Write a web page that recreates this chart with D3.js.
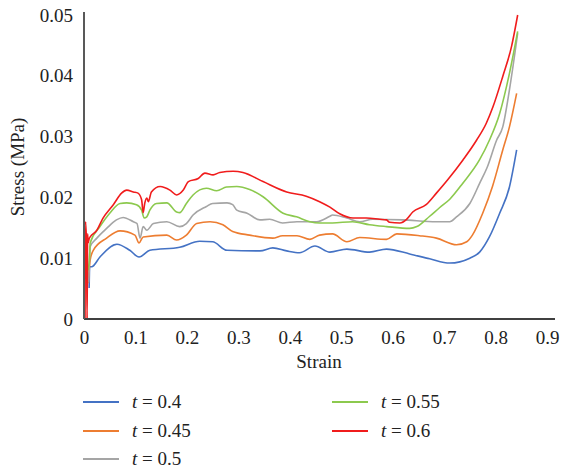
<!DOCTYPE html>
<html>
<head>
<meta charset="utf-8">
<script src="https://cdn.jsdelivr.net/npm/d3@7"></script>
<style>
    body { margin: 0; background: #fff; }
    text { font-family: "Liberation Serif", "DejaVu Serif", serif; fill: #222; }
</style>
</head>
<body>
<svg id="chart" width="565" height="470"></svg>
<script>
let xTicks = [0, 0.1, 0.2, 0.3, 0.4, 0.5, 0.6, 0.7, 0.8, 0.9];
let yTicks = [0, 0.01, 0.02, 0.03, 0.04, 0.05];
let seriesNames = ["0.4", "0.45", "0.5", "0.55", "0.6"];

// [strain, stress (MPa)]
let t040 = [
    [0.010, 0.0051], [0.011, 0.0086], [0.015, 0.0086], [0.031, 0.0102], [0.064, 0.0123],
    [0.089, 0.0113], [0.107, 0.0102], [0.128, 0.0113], [0.186, 0.0118], [0.225, 0.0128],
    [0.250, 0.0127], [0.278, 0.0113], [0.342, 0.0112], [0.367, 0.0117], [0.394, 0.0112],
    [0.419, 0.0109], [0.449, 0.0120], [0.478, 0.0110], [0.511, 0.0115], [0.555, 0.0110],
    [0.588, 0.0115], [0.633, 0.0107], [0.672, 0.0099], [0.711, 0.0092], [0.750, 0.0100],
    [0.769, 0.0110], [0.788, 0.0135], [0.808, 0.0174], [0.827, 0.0217], [0.841, 0.0278],
];
let t045 = [
    [0.008, 0.0059], [0.012, 0.0097], [0.018, 0.0113], [0.044, 0.0133], [0.070, 0.0145],
    [0.099, 0.0138], [0.107, 0.0125], [0.115, 0.0135], [0.161, 0.0138], [0.180, 0.0130],
    [0.199, 0.0138], [0.219, 0.0157], [0.245, 0.0160], [0.270, 0.0155], [0.289, 0.0144],
    [0.322, 0.0138], [0.367, 0.0133], [0.386, 0.0137], [0.414, 0.0137], [0.439, 0.0131],
    [0.458, 0.0138], [0.483, 0.0140], [0.511, 0.0127], [0.536, 0.0134], [0.588, 0.0131],
    [0.608, 0.0140], [0.652, 0.0137], [0.685, 0.0133], [0.724, 0.0122], [0.744, 0.0127],
    [0.755, 0.0138], [0.775, 0.0174], [0.794, 0.0218], [0.814, 0.0278], [0.827, 0.0316],
    [0.841, 0.0371],
];
let t050 = [
    [0.009, 0.0060], [0.011, 0.0105], [0.012, 0.0119], [0.025, 0.0133], [0.044, 0.0149],
    [0.063, 0.0163], [0.076, 0.0167], [0.096, 0.0160], [0.103, 0.0157], [0.109, 0.0133],
    [0.115, 0.0152], [0.122, 0.0146], [0.135, 0.0157], [0.161, 0.0160], [0.186, 0.0152],
    [0.199, 0.0157], [0.212, 0.0171], [0.238, 0.0185], [0.250, 0.0190], [0.278, 0.0191],
    [0.289, 0.0188], [0.297, 0.0179], [0.317, 0.0174], [0.342, 0.0163], [0.361, 0.0164],
    [0.386, 0.0158], [0.414, 0.0160], [0.452, 0.0160], [0.478, 0.0169], [0.483, 0.0171],
    [0.511, 0.0166], [0.536, 0.0160], [0.561, 0.0164], [0.619, 0.0163], [0.685, 0.0160],
    [0.711, 0.0160], [0.724, 0.0168], [0.750, 0.0190], [0.769, 0.0223], [0.784, 0.0250],
    [0.802, 0.0294], [0.814, 0.0316], [0.827, 0.0377], [0.843, 0.0470],
];
let t055 = [
    [0.008, 0.0080], [0.011, 0.0105], [0.012, 0.0125], [0.031, 0.0152], [0.050, 0.0174],
    [0.070, 0.0190], [0.083, 0.0191], [0.102, 0.0188], [0.112, 0.0179], [0.117, 0.0166],
    [0.122, 0.0168], [0.128, 0.0179], [0.141, 0.0190], [0.161, 0.0191], [0.180, 0.0176],
    [0.186, 0.0175], [0.199, 0.0190], [0.212, 0.0204], [0.238, 0.0215], [0.258, 0.0211],
    [0.277, 0.0217], [0.297, 0.0218], [0.322, 0.0213], [0.348, 0.0201], [0.387, 0.0174],
    [0.413, 0.0168], [0.439, 0.0160], [0.458, 0.0158], [0.483, 0.0158], [0.522, 0.0160],
    [0.555, 0.0155], [0.588, 0.0152], [0.633, 0.0149], [0.647, 0.0152], [0.672, 0.0169],
    [0.691, 0.0183], [0.711, 0.0197], [0.736, 0.0223], [0.769, 0.0262], [0.788, 0.0294],
    [0.808, 0.0338], [0.827, 0.0404], [0.843, 0.0473],
];
let t060 = [
    [0.002, 0.0000], [0.003, 0.0160], [0.005, 0.0120], [0.006, 0.0000], [0.007, 0.0140],
    [0.008, 0.0125], [0.010, 0.0132], [0.012, 0.0135], [0.025, 0.0146], [0.037, 0.0166],
    [0.057, 0.0188], [0.073, 0.0207], [0.083, 0.0212], [0.096, 0.0209], [0.105, 0.0207],
    [0.112, 0.0196], [0.115, 0.0175], [0.118, 0.0190], [0.122, 0.0199], [0.125, 0.0193],
    [0.131, 0.0209], [0.148, 0.0218], [0.167, 0.0212], [0.180, 0.0204], [0.193, 0.0212],
    [0.203, 0.0226], [0.222, 0.0231], [0.235, 0.0240], [0.251, 0.0237], [0.264, 0.0241],
    [0.290, 0.0243], [0.309, 0.0241], [0.348, 0.0226], [0.394, 0.0209], [0.432, 0.0202],
    [0.458, 0.0193], [0.478, 0.0184], [0.497, 0.0173], [0.523, 0.0166], [0.549, 0.0166],
    [0.575, 0.0164], [0.588, 0.0163], [0.594, 0.0159], [0.614, 0.0158], [0.627, 0.0164],
    [0.639, 0.0176], [0.665, 0.0188], [0.685, 0.0207], [0.707, 0.0229], [0.737, 0.0262],
    [0.763, 0.0294], [0.782, 0.0322], [0.795, 0.0349], [0.814, 0.0399], [0.831, 0.0448],
    [0.843, 0.0500],
];

let seriesData = [t040, t045, t050, t055, t060];
let colors = ["#4472c4", "#ed7d31", "#a5a5a5", "#8cc94e", "#f01c1c"];

let svg = d3.select("#chart");
let x = d3.scaleLinear().domain([0, 0.9]).range([84, 547]);
let y = d3.scaleLinear().domain([0, 0.05]).range([319, 15]);

let xAxis = svg.append("g")
    .attr("transform", `translate(0, ${y(0)})`)
    .call(d3.axisBottom(x).tickValues(xTicks).tickSize(0).tickPadding(12)
        .tickFormat(d => d === 0 ? "0" : d3.format(".1f")(d)));
xAxis.select(".domain").remove();
xAxis.selectAll("text").style("font-size", "19px").style("font-family", null);

let yAxis = svg.append("g")
    .attr("transform", `translate(${x(0)}, 0)`)
    .call(d3.axisLeft(y).tickValues(yTicks).tickSize(0).tickPadding(11)
        .tickFormat(d => d === 0 ? "0" : d3.format(".2f")(d)));
yAxis.select(".domain").remove();
yAxis.selectAll("text").style("font-size", "19px").style("font-family", null);

let line = d3.line().x(d => x(d[0])).y(d => y(d[1])).curve(d3.curveMonotoneX);

svg.append("g")
    .selectAll("path")
    .data(seriesData)
    .join("path")
    .attr("d", line)
    .attr("fill", "none")
    .attr("stroke", (d, i) => colors[i])
    .attr("stroke-width", 1.6)
    .attr("stroke-linejoin", "round");

svg.append("line")
    .attr("x1", x(0)).attr("x2", 555)
    .attr("y1", y(0)).attr("y2", y(0))
    .attr("stroke", "#404040").attr("stroke-width", 1.8);
svg.append("line")
    .attr("x1", x(0)).attr("x2", x(0))
    .attr("y1", 12).attr("y2", y(0))
    .attr("stroke", "#595959").attr("stroke-width", 2);

svg.append("text")
    .attr("x", 319).attr("y", 368)
    .attr("text-anchor", "middle")
    .style("font-size", "19px")
    .text("Strain");

svg.append("text")
    .attr("transform", `translate(24, ${(y(0) + y(0.05)) / 2}) rotate(-90)`)
    .attr("text-anchor", "middle")
    .style("font-size", "19px")
    .text("Stress (MPa)");

let legendPos = [[83, 402], [83, 431], [83, 459], [332, 402], [332, 431]];
let legend = svg.append("g")
    .selectAll("g")
    .data(seriesNames)
    .join("g")
    .attr("transform", (d, i) => `translate(${legendPos[i][0]}, ${legendPos[i][1]})`);
legend.append("line")
    .attr("x1", 0).attr("x2", 36)
    .attr("stroke", (d, i) => colors[i])
    .attr("stroke-width", 1.8);
let legendText = legend.append("text")
    .attr("x", 49).attr("y", 6)
    .style("font-size", "19px");
legendText.append("tspan").style("font-style", "italic").text("t");
legendText.append("tspan").text(d => " = " + d);
</script>
</body>
</html>
